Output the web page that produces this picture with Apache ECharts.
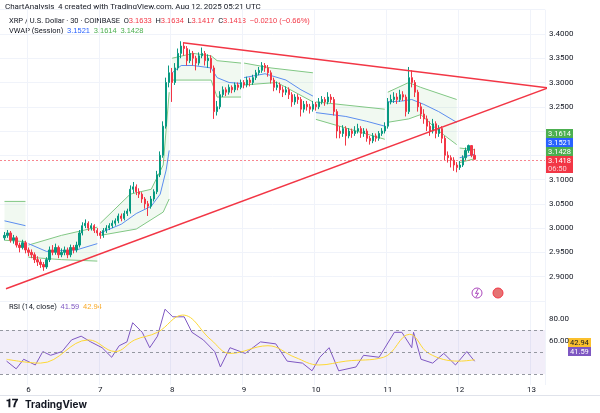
<!DOCTYPE html>
<html>
<head>
<meta charset="utf-8">
<script src="https://cdn.jsdelivr.net/npm/echarts@6/dist/echarts.min.js"></script>
<style>html,body{margin:0;padding:0;background:#fff}#main{width:600px;height:413px}</style>
</head>
<body>
<div id="main"></div>
<script>
// 1h candles, index i -> day 6 + (i-9)/24
var dayTicks = ['6', '7', '8', '9', '10', '11', '12', '13'];
var closes = [2.985,2.990,2.975,2.980,2.965,2.960,2.970,2.955,2.950,2.945,2.935,2.930,2.925,2.920,2.935,2.955,2.950,2.960,2.945,2.950,
  2.955,2.945,2.960,2.955,2.965,2.990,3.005,3.010,3.000,3.005,2.995,2.990,2.985,2.995,3.000,3.005,3.010,3.015,3.025,3.020,
  3.030,3.035,3.080,3.085,3.075,3.070,3.060,3.050,3.045,3.060,3.075,3.110,3.150,3.210,3.300,3.320,3.300,3.330,3.360,3.375,
  3.370,3.345,3.360,3.350,3.340,3.355,3.360,3.345,3.350,3.330,3.240,3.250,3.275,3.285,3.280,3.290,3.285,3.295,3.290,3.300,
  3.295,3.305,3.300,3.310,3.320,3.325,3.335,3.330,3.320,3.305,3.290,3.295,3.285,3.280,3.285,3.275,3.260,3.270,3.265,3.245,
  3.255,3.250,3.245,3.255,3.250,3.260,3.265,3.260,3.270,3.265,3.240,3.200,3.195,3.205,3.190,3.200,3.195,3.200,3.205,3.195,
  3.200,3.185,3.180,3.190,3.185,3.195,3.200,3.210,3.260,3.265,3.270,3.265,3.275,3.270,3.240,3.310,3.300,3.280,3.250,3.235,
  3.225,3.210,3.200,3.215,3.195,3.205,3.185,3.150,3.145,3.140,3.130,3.125,3.130,3.145,3.160,3.170,3.150,3.1418];
var highs = [2.992,2.996,2.994,2.986,2.984,2.970,2.976,2.974,2.960,2.956,2.950,2.942,2.936,2.930,2.940,2.962,2.965,2.968,2.964,2.958,
  2.962,2.960,2.966,2.965,2.972,2.996,3.012,3.018,3.014,3.010,3.008,3.000,2.994,3.000,3.006,3.010,3.016,3.020,3.030,3.030,
  3.036,3.040,3.088,3.095,3.090,3.082,3.074,3.064,3.056,3.066,3.080,3.118,3.158,3.220,3.310,3.335,3.330,3.340,3.370,3.385,
  3.382,3.375,3.368,3.365,3.355,3.362,3.372,3.365,3.358,3.356,3.335,3.262,3.282,3.292,3.290,3.296,3.294,3.300,3.300,3.306,
  3.305,3.312,3.310,3.316,3.326,3.332,3.342,3.340,3.336,3.325,3.310,3.302,3.300,3.292,3.292,3.290,3.280,3.276,3.276,3.270,
  3.262,3.262,3.256,3.262,3.260,3.268,3.272,3.270,3.280,3.276,3.270,3.245,3.210,3.212,3.210,3.206,3.205,3.210,3.215,3.210,
  3.206,3.205,3.190,3.196,3.195,3.200,3.206,3.218,3.268,3.275,3.280,3.278,3.285,3.282,3.275,3.332,3.325,3.305,3.285,3.258,
  3.245,3.232,3.220,3.225,3.220,3.212,3.210,3.190,3.158,3.150,3.146,3.136,3.138,3.150,3.166,3.172,3.168,3.1634];
var lows = [2.975,2.980,2.970,2.968,2.960,2.950,2.956,2.948,2.942,2.938,2.928,2.922,2.918,2.912,2.916,2.930,2.944,2.945,2.938,2.940,
  2.944,2.938,2.940,2.948,2.950,2.960,2.985,3.000,2.994,2.995,2.990,2.984,2.978,2.980,2.990,2.996,3.000,3.005,3.010,3.014,
  3.016,3.025,3.030,3.072,3.068,3.062,3.052,3.040,3.025,3.040,3.055,3.070,3.105,3.145,3.205,3.290,3.260,3.295,3.325,3.350,
  3.355,3.335,3.340,3.335,3.325,3.335,3.350,3.335,3.330,3.320,3.225,3.232,3.245,3.270,3.272,3.275,3.278,3.280,3.284,3.286,
  3.288,3.290,3.292,3.295,3.305,3.315,3.320,3.322,3.312,3.298,3.282,3.284,3.278,3.270,3.274,3.266,3.250,3.254,3.256,3.230,
  3.238,3.242,3.236,3.240,3.242,3.245,3.255,3.252,3.255,3.258,3.232,3.185,3.185,3.188,3.170,3.185,3.186,3.190,3.195,3.186,
  3.188,3.178,3.172,3.175,3.178,3.180,3.190,3.195,3.205,3.255,3.258,3.256,3.260,3.262,3.230,3.235,3.290,3.270,3.240,3.225,
  3.215,3.200,3.190,3.195,3.185,3.188,3.175,3.140,3.135,3.125,3.118,3.115,3.120,3.126,3.140,3.155,3.146,3.1417];
var firstOpen = 2.980;

// VWAP (session) and its bands as [candle index, price]; null = session break
var vwapPts = [[1,3.015],[8,3.005],null,
  [9,2.968],[15,2.952],[25,2.955],[32,2.968],null,
  [33,2.99],[40,3.008],[45,3.03],[50,3.045],[53,3.07],[55,3.12],[56,3.16],null,
  [57,3.32],[60,3.335],[64,3.335],[70,3.33],[72,3.31],[76,3.30],[80,3.298],null,
  [81,3.31],[88,3.318],[95,3.305],[100,3.285],[104,3.272],null,
  [105,3.238],[115,3.23],[122,3.22],[128,3.21],null,
  [129,3.26],[134,3.262],[137,3.265],[141,3.255],[146,3.24],[152,3.218],null,
  [153,3.145],[158,3.1521]];
var upperPts = [[1,3.055],[8,3.055],null,
  [9,2.965],[20,2.985],[32,3.002],null,
  [33,3.01],[43,3.07],[50,3.08],[54,3.13],[56,3.28],null,
  [57,3.35],[64,3.36],[70,3.355],[72,3.345],[80,3.34],null,
  [81,3.34],[90,3.33],[104,3.32],null,
  [105,3.26],[128,3.245],null,
  [129,3.28],[136,3.30],[140,3.29],[152,3.265],null,
  [153,3.165],[158,3.1614]];
var lowerPts = [[1,2.975],[8,2.972],null,
  [9,2.94],[20,2.935],[32,2.932],null,
  [33,2.985],[45,2.998],[54,3.033],[56,3.06],null,
  [57,3.305],[70,3.305],[72,3.27],[80,3.27],null,
  [81,3.295],[92,3.30],[104,3.26],null,
  [105,3.224],[128,3.183],null,
  [129,3.218],[136,3.225],[140,3.234],[146,3.2],[152,3.172],null,
  [153,3.135],[158,3.1428]];

// triangle trendlines
var upperTrend = [[60.6,3.382],[182.6,3.289]];
var lowerTrend = [[1.5,2.875],[182.6,3.289]];

// RSI(14) and its MA
var rsiPts = [[1.7,41.7],[4.9,34.7],[7.4,43.4],[11.3,38.2],[13.8,50.4],[16.4,47],[20.2,50.4],[23.4,61],[26.6,64.4],[29.8,59.2],
  [33.6,53.9],[36.8,45.2],[39.3,55.7],[41.9,59.2],[43.8,76.6],[47,67.9],[49.5,53.9],[52.1,64.4],[54.6,88.9],[57.2,82],
  [61,82],[63.6,67.9],[67.4,61],[71.2,50.4],[73.1,36.4],[76.3,53.9],[81.4,48.7],[86.5,59.2],[91.6,57.4],[95.4,41.7],
  [100.5,39.9],[103.7,32.9],[106.3,45.2],[109.4,53.9],[112.6,32.9],[118.4,36.4],[120.9,47],[126.1,45.2],[131.2,67.9],[133.7,67.9],
  [137,53.9],[137.6,67.9],[140.1,43.4],[144,39.9],[147.7,48.7],[151.6,38.2],[155.4,50.4],[158,41.59]];
var rsiMaPts = [[1.7,43.4],[13,39.9],[29.1,61],[38,50.4],[44.5,61],[52.1,67.9],[60.5,83.6],[70,61],[76.3,48.7],[89,55.7],
  [98,45.2],[106,38.2],[115,41.7],[127.6,45.2],[136.3,66.1],[142.7,48.7],[152.8,41.7],[158,42.94]];

var N = 182;
var cats = [], candles = [];
for (var i = 0; i < N; i++) {
  cats.push(i);
  var k = i - 1;
  if (k >= 0 && k < closes.length) {
    var o = k === 0 ? firstOpen : closes[k - 1];
    candles.push([o, closes[k], lows[k], highs[k]]);
  } else candles.push('-');
}
function dayLabel(i) { var d = i - 9; return d % 24 === 0 ? dayTicks[d / 24] : ''; }

// split band arrays into sessions for the fill polygons
function sessions(pts) {
  var out = [[]];
  pts.forEach(function (p) { if (p === null) out.push([]); else out[out.length - 1].push(p); });
  return out;
}
var upS = sessions(upperPts), loS = sessions(lowerPts);
var bandData = upS.map(function (s) { return [s[0][0], s[0][1]]; });

var up = '#089981', down = '#f23645';
var font = 'Roboto, "Noto Sans", sans-serif';
var myChart = echarts.init(document.getElementById('main'));
myChart.setOption({
  animation: false,
  textStyle: { fontFamily: font },
  grid: [
    { left: 0, right: 55, top: 9.7, height: 291.2 },
    { left: 0, right: 55, top: 297, height: 88 }
  ],
  xAxis: [
    { type: 'category', data: cats, gridIndex: 0, boundaryGap: true,
      axisLine: { show: false }, axisTick: { show: false }, axisLabel: { show: false },
      splitLine: { show: true, interval: function (i) { return (i - 9) % 24 === 0; }, lineStyle: { color: '#f0f3fa' } } },
    { type: 'value', gridIndex: 0, min: -0.5, max: N - 0.5, show: false },
    { type: 'category', data: cats, gridIndex: 1, boundaryGap: true,
      axisLine: { show: false }, axisTick: { show: false },
      axisLabel: { interval: function (i) { return (i - 9) % 24 === 0; }, formatter: function (v, i) { return dayLabel(i); },
        fontSize: 8, color: '#131722', margin: 1 },
      splitLine: { show: true, interval: function (i) { return (i - 9) % 24 === 0; }, lineStyle: { color: '#f0f3fa' } } },
    { type: 'value', gridIndex: 1, min: -0.5, max: N - 0.5, show: false }
  ],
  yAxis: [
    { type: 'value', gridIndex: 0, position: 'right', min: 2.85, max: 3.45, interval: 0.05,
      axisLine: { show: false }, axisTick: { show: false },
      axisLabel: { showMinLabel: false, showMaxLabel: false, fontSize: 8, color: '#131722', margin: 4,
        formatter: function (v) { return (v > 3.13 && v < 3.22) ? '' : v.toFixed(4); } },
      splitLine: { lineStyle: { color: '#f0f3fa' } } },
    { type: 'value', gridIndex: 1, position: 'right', min: 20, max: 100, interval: 20,
      axisLine: { show: false }, axisTick: { show: false },
      axisLabel: { fontSize: 8, color: '#131722', margin: 4,
        formatter: function (v) { return (v === 60 || v === 80) ? v.toFixed(2) : ''; } },
      splitLine: { show: false } }
  ],
  series: [
    { type: 'custom', xAxisIndex: 1, yAxisIndex: 0, data: bandData, silent: true, z: 1,
      renderItem: function (params, api) {
        var u = upS[params.dataIndex], l = loS[params.dataIndex];
        var pts = u.map(function (p) { return api.coord(p); })
          .concat(l.slice().reverse().map(function (p) { return api.coord(p); }));
        return { type: 'polygon', shape: { points: pts }, style: { fill: 'rgba(76,175,80,0.08)' } };
      } },
    { type: 'line', xAxisIndex: 1, yAxisIndex: 0, data: upperPts, symbol: 'none', z: 2,
      lineStyle: { color: '#81c784', width: 1 } },
    { type: 'line', xAxisIndex: 1, yAxisIndex: 0, data: lowerPts, symbol: 'none', z: 2,
      lineStyle: { color: '#81c784', width: 1 } },
    { type: 'line', xAxisIndex: 1, yAxisIndex: 0, data: vwapPts, symbol: 'none', z: 2,
      lineStyle: { color: '#5b8def', width: 1 } },
    { type: 'candlestick', xAxisIndex: 0, yAxisIndex: 0, data: candles, barWidth: '60%', z: 3,
      itemStyle: { color: up, color0: down, borderColor: up, borderColor0: down, borderWidth: 1 },
      markLine: { symbol: 'none', silent: true, label: { show: false },
        lineStyle: { color: '#f23645', type: [2, 2], width: 1, opacity: 0.6 }, data: [{ yAxis: 3.1418 }] } },
    { type: 'line', xAxisIndex: 1, yAxisIndex: 0, data: upperTrend, symbol: 'none', clip: false, z: 4,
      lineStyle: { color: '#f23645', width: 1.5 } },
    { type: 'line', xAxisIndex: 1, yAxisIndex: 0, data: lowerTrend, symbol: 'none', clip: false, z: 4,
      lineStyle: { color: '#f23645', width: 1.5 } },
    { type: 'line', xAxisIndex: 3, yAxisIndex: 1, data: rsiPts, symbol: 'none', z: 3,
      lineStyle: { color: '#7e57c2', width: 1 },
      markArea: { silent: true, itemStyle: { color: 'rgba(126,87,194,0.1)' }, data: [[{ yAxis: 30 }, { yAxis: 70 }]] },
      markLine: { symbol: 'none', silent: true, label: { show: false },
        lineStyle: { color: '#9598a1', type: [3, 3], width: 1 },
        data: [{ yAxis: 70 }, { yAxis: 50 }, { yAxis: 30 }] } },
    { type: 'line', xAxisIndex: 3, yAxisIndex: 1, data: rsiMaPts, symbol: 'none', smooth: 0.4, z: 3,
      lineStyle: { color: '#fdd835', width: 1 } }
  ],
  graphic: [
    { type: 'text', left: 5, top: 3, style: { text: 'ChartAnalysis_4 created with TradingView.com, Aug 12, 2025 05:21 UTC', fontSize: 8, fill: '#131722', fontFamily: font } },
    { type: 'text', left: 9, top: 17, style: { fontFamily: font, fontSize: 7.5, fill: '#131722',
      text: 'XRP / U.S. Dollar · 30 · COINBASE  O{r|3.1633}  H{r|3.1634}  L{r|3.1417}  C{r|3.1418}  {r|−0.0210 (−0.66%)}',
      rich: { r: { fill: '#f23645', fontSize: 7.5 } } } },
    { type: 'text', left: 9, top: 27, style: { fontFamily: font, fontSize: 7.5, fill: '#131722',
      text: 'VWAP (Session)  {b|3.1521}  {g|3.1614}  {g|3.1428}',
      rich: { b: { fill: '#2962ff', fontSize: 7.5 }, g: { fill: '#4caf50', fontSize: 7.5 } } } },
    { type: 'text', left: 9, top: 303, style: { fontFamily: font, fontSize: 7.5, fill: '#131722',
      text: 'RSI (14, close)  {p|41.59}  {y|42.94}',
      rich: { p: { fill: '#7e57c2', fontSize: 7.5 }, y: { fill: '#f9a825', fontSize: 7.5 } } } },
    // price scale value tags
    { type: 'group', left: 545, top: 129, z: 100, children: [
      { type: 'rect', shape: { x: 0, y: 0, width: 28, height: 9 }, style: { fill: '#4caf50' } },
      { type: 'text', x: 3, y: 1, style: { text: '3.1614', fill: '#fff', fontSize: 7.5, fontFamily: font } },
      { type: 'rect', shape: { x: 0, y: 9, width: 28, height: 9 }, style: { fill: '#2962ff' } },
      { type: 'text', x: 3, y: 10, style: { text: '3.1521', fill: '#fff', fontSize: 7.5, fontFamily: font } },
      { type: 'rect', shape: { x: 0, y: 18, width: 28, height: 9 }, style: { fill: '#4caf50' } },
      { type: 'text', x: 3, y: 19, style: { text: '3.1428', fill: '#fff', fontSize: 7.5, fontFamily: font } },
      { type: 'rect', shape: { x: 0, y: 27, width: 28, height: 17 }, style: { fill: '#f23645' } },
      { type: 'text', x: 3, y: 28, style: { text: '3.1418', fill: '#fff', fontSize: 7.5, fontFamily: font } },
      { type: 'text', x: 3, y: 36, style: { text: '06:50', fill: '#fbd0d3', fontSize: 7.5, fontFamily: font } }
    ] },
    { type: 'group', left: 568, top: 338, z: 100, children: [
      { type: 'rect', shape: { x: 0, y: 0, width: 23, height: 9 }, style: { fill: '#fbc02d' } },
      { type: 'text', x: 2, y: 1, style: { text: '42.94', fill: '#131722', fontSize: 7.5, fontFamily: font } },
      { type: 'rect', shape: { x: 0, y: 9, width: 23, height: 9 }, style: { fill: '#7e57c2' } },
      { type: 'text', x: 2, y: 10, style: { text: '41.59', fill: '#fff', fontSize: 7.5, fontFamily: font } }
    ] },
    // event icons
    { type: 'circle', shape: { cx: 477, cy: 293, r: 5 }, style: { fill: '#fff', stroke: '#ab47bc', lineWidth: 1 } },
    { type: 'polyline', shape: { points: [[478, 289], [475.5, 293.5], [478.5, 293], [476, 297]] }, style: { stroke: '#ab47bc', lineWidth: 1, fill: null } },
    { type: 'circle', shape: { cx: 498, cy: 293, r: 5 }, style: { fill: '#e57373', stroke: '#f23645', lineWidth: 1 } },
    // bottom separator + logo
    { type: 'rect', shape: { x: 0, y: 395, width: 600, height: 1 }, style: { fill: '#e0e3eb' } },
    { type: 'text', left: 6, top: 399, style: { text: '𝟏𝟕', fontSize: 11, fill: '#131722', fontWeight: 'bold', fontFamily: 'DejaVu Sans' } },
    { type: 'text', left: 25, top: 400, style: { text: 'TradingView', fontSize: 10, fill: '#131722', fontWeight: 'bold', fontFamily: 'Inter, sans-serif' } }
  ]
});
</script>
</body>
</html>
